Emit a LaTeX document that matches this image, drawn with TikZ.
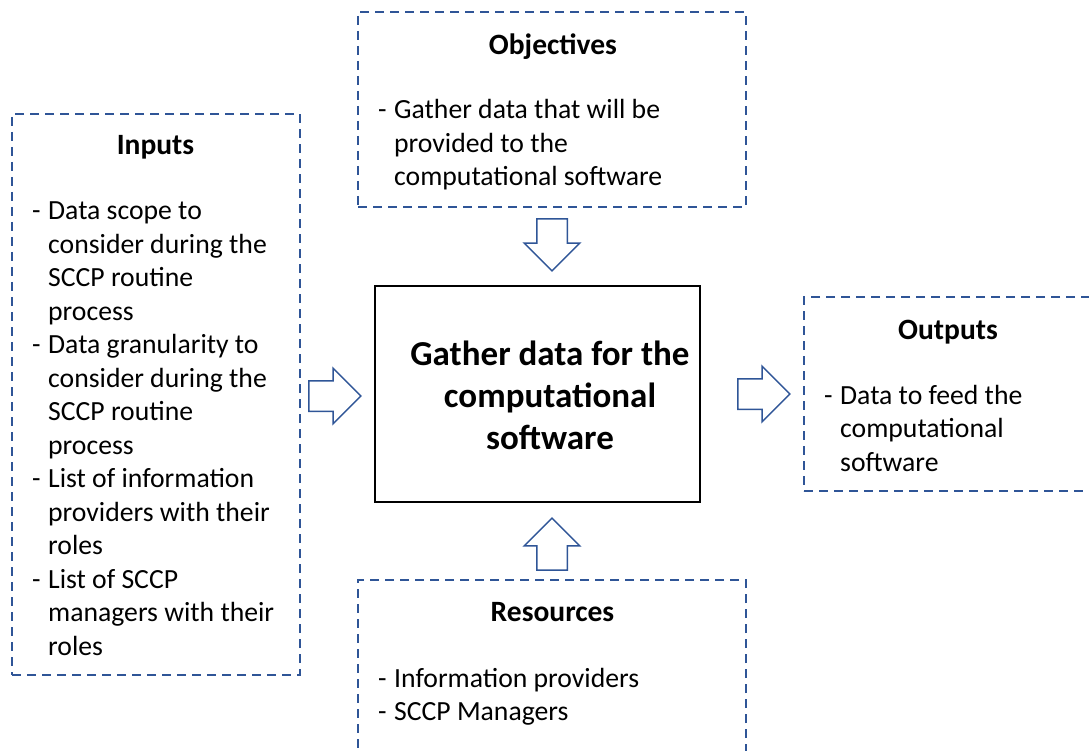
\documentclass[tikz,border=0pt]{standalone}
\usepackage{fontspec}
\setmainfont{Carlito}
\usepackage{xcolor}
\usetikzlibrary{shapes,arrows,positioning,calc}

\definecolor{frameblue}{HTML}{2F5597}
\newcommand{\bodysize}{\fontsize{27.7}{33.5}\selectfont}
\newcommand{\headsize}{\fontsize{29.5}{36}\selectfont\bfseries}
\newcommand{\dash}{\makebox[16pt][l]{-}}

\begin{document}
\begin{tikzpicture}[
    x=1pt, y=-1pt,
    frame/.style={rectangle, draw=frameblue, line width=2.2pt, dash pattern=on 9pt off 6pt},
    task/.style={rectangle, draw=black, line width=2.2pt, minimum width=325pt, minimum height=216pt},
    tasktext/.style={align=center, inner sep=0pt, font=\fontsize{35}{42}\selectfont\bfseries},
    head/.style={anchor=base, inner sep=0pt, font=\headsize},
    items/.style={anchor=base west, inner sep=0pt, font=\bodysize},
    blockarrow/.style={single arrow, draw=frameblue, fill=white, line width=1.5pt,
                       inner xsep=0pt, inner ysep=14.5pt, minimum height=52pt,
                       single arrow head extend=12.5pt, anchor=tip}
]

\useasboundingbox (0,0) rectangle (1089,751);
\clip (0,0) rectangle (1089,751);

% main task
\node[task] (main) at (537.5,394) {};
\node[tasktext] (maintext) at ($(main.center)+(12.5,1)$) {Gather data for the\\computational\\software};

% dashed frames
\node[frame, minimum width=288pt, minimum height=561pt] (inputs) at (156,394.5) {};
\node[frame, minimum width=388pt, minimum height=195pt] (objectives) at (552,109.5) {};
\node[frame, minimum width=316pt, minimum height=194pt] (outputs) at (962,394) {};
\node[frame, minimum width=388pt, minimum height=220pt] (resources) at (552,690) {};

% titles
\node[head] (intitle) at (155.5,155) {Inputs};
\node[head] (objtitle) at (553,55) {Objectives};
\node[head] (outtitle) at (948,339) {Outputs};
\node[head] (restitle) at (552.5,621) {Resources};

% lists
\node[items] (inlist) at (32,220) {\begin{tabular}[t]{@{}l@{}l@{}}
  \dash & Data scope to\\
        & consider during the\\
        & SCCP routine\\
        & process\\
  \dash & Data granularity to\\
        & consider during the\\
        & SCCP routine\\
        & process\\
  \dash & List of information\\
        & providers with their\\
        & roles\\
  \dash & List of SCCP\\
        & managers with their\\
        & roles
\end{tabular}};
\node[items] (objlist) at (378,119) {\begin{tabular}[t]{@{}l@{}l@{}}
  \dash & Gather data that will be\\
        & provided to the\\
        & computational software
\end{tabular}};
\node[items] (outlist) at (824,404) {\begin{tabular}[t]{@{}l@{}l@{}}
  \dash & Data to feed the\\
        & computational\\
        & software
\end{tabular}};
\node[items] (reslist) at (378,687) {\begin{tabular}[t]{@{}l@{}l@{}}
  \dash & Information providers\\
  \dash & SCCP Managers
\end{tabular}};

% block arrows
\node[blockarrow, rotate=-90] (objarrow) at ($(main.north)+(14.5,-13)$) {};
\node[blockarrow, rotate=90] (resarrow) at ($(main.south)+(14.5,14)$) {};
\node[blockarrow] (inarrow) at ($(main.west)+(-12,2)$) {};
\node[blockarrow] (outarrow) at ($(outputs.west)+(-12,0)$) {};

\end{tikzpicture}
\end{document}
